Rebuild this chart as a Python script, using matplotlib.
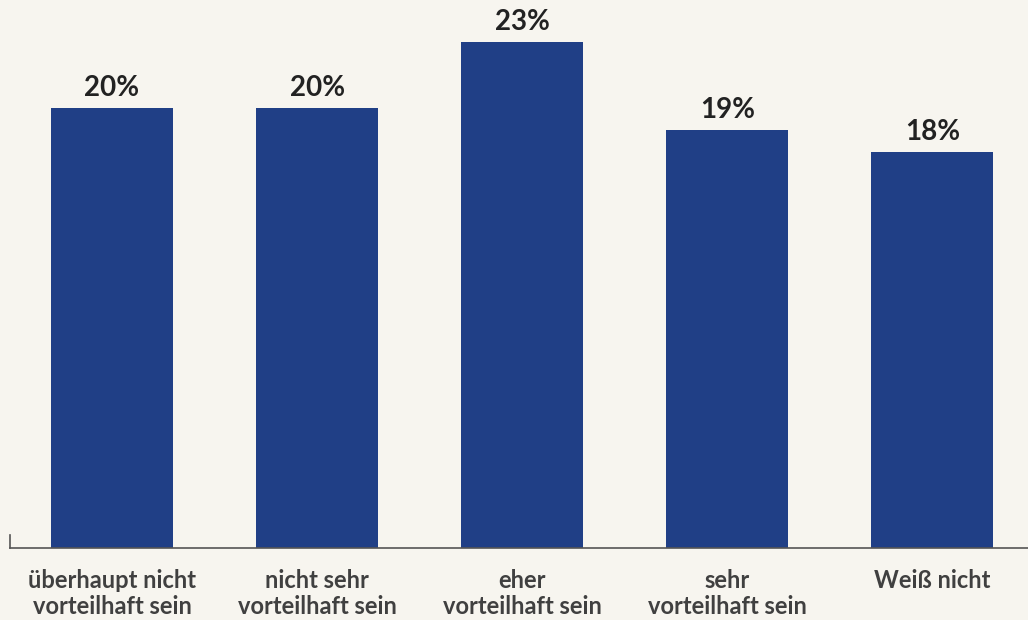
import matplotlib.pyplot as plt

categories = ["überhaupt nicht\nvorteilhaft sein", "nicht sehr\nvorteilhaft sein",
              "eher\nvorteilhaft sein", "sehr\nvorteilhaft sein", "Weiß nicht"]
values = [20, 20, 23, 19, 18]

plt.rcParams['font.family'] = ['Lato', 'DejaVu Sans']

bg = '#f7f5ef'
fig = plt.figure(figsize=(10.28, 6.2), dpi=100, facecolor=bg)
ax = fig.add_axes([10 / 1028, 1 - 548 / 620, 1018 / 1028, 548 / 620])
ax.set_facecolor(bg)

x = range(len(values))
bars = ax.bar(x, values, width=0.595, color='#203f86')

for b, v in zip(bars, values):
    ax.text(b.get_x() + b.get_width() / 2, v + 0.3, f"{v}%", ha='center', va='bottom',
            fontsize=20, fontweight='bold', color='#222222')

ax.set_xlim(-0.4976, 4.466)
ax.set_ylim(0, 548 / 22)
ax.set_xticks(list(x))
ax.set_xticklabels(categories, fontsize=17, fontweight='bold', color='#404040',
                   linespacing=1.15)
ax.tick_params(axis='x', length=0, pad=15)
ax.set_yticks([])

for s in ['top', 'right']:
    ax.spines[s].set_visible(False)
ax.spines['bottom'].set_color('#555555')
ax.spines['left'].set_color('#555555')
ax.spines['bottom'].set_linewidth(1.2)
ax.spines['left'].set_linewidth(1.2)
ax.spines['left'].set_bounds(0, 0.6)

fig.savefig('out.png', dpi=100, facecolor=bg)
